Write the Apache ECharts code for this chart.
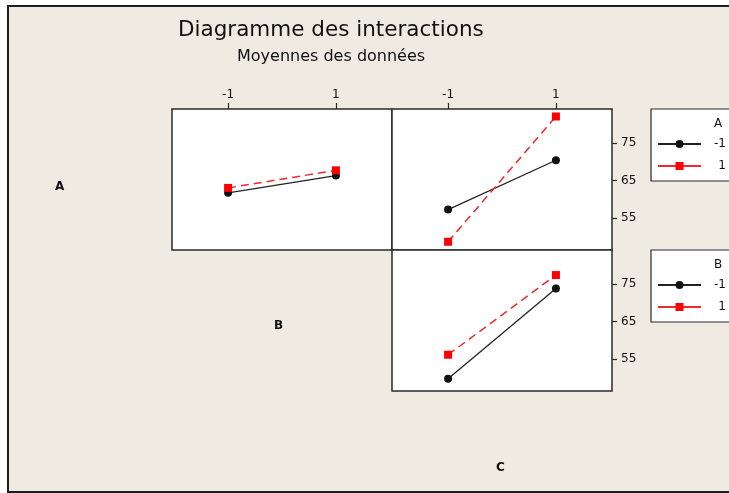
<!DOCTYPE html>
<html>
<head>
<meta charset="utf-8">
<script src="https://cdn.jsdelivr.net/npm/echarts@6/dist/echarts.min.js"></script>
<style>
html,body{margin:0;padding:0;background:#ffffff;overflow:hidden;}
#frame{position:absolute;left:7px;top:5px;width:740px;height:484px;background:#EFEBE2;border-left:2px solid #1e1e1e;border-top:2px solid #1e1e1e;border-bottom:2px solid #1e1e1e;}
#chart{position:absolute;left:0;top:0;width:729px;height:493px;}
</style>
</head>
<body>
<div id="frame"></div>
<div id="chart"></div>
<script>
// ---- data ----
const levels = [-1, 1];
const xTicks = [-1, 1];
const yTicks = [55, 65, 75];
// Row A, x = B : lines for A
const abANeg = [61.7, 66.3];
const abAPos = [63.0, 67.7];
// Row A, x = C : lines for A
const acANeg = [57.2, 70.4];
const acAPos = [48.6, 82.1];
// Row B, x = C : lines for B
const bcBNeg = [49.7, 73.8];
const bcBPos = [56.1, 77.4];
const legendNames = ['-1', '1'];

const pts = arr => levels.map((x, i) => [x, arr[i]]);

const FONT = 'DejaVu Sans';
const X_MIN = -2.04, X_MAX = 2.04, Y_MIN = 46.4, Y_MAX = 84.1;

function grid(left, top) {
  return {left: left, top: top, width: 220, height: 141, show: true,
    backgroundColor: '#ffffff', borderColor: '#2a2a2a', borderWidth: 1.5, containLabel: false};
}
function xAxis(idx, labels) {
  return {type: 'value', gridIndex: idx, min: X_MIN, max: X_MAX, position: 'top',
    splitLine: {show: false}, axisLine: {show: false, onZero: false},
    axisTick: {show: labels, inside: false, length: 6, customValues: xTicks, lineStyle: {color: '#2a2a2a', width: 1.2}},
    axisLabel: {show: labels, customValues: xTicks, margin: 8, color: '#111', fontFamily: FONT, fontSize: 12}};
}
function yAxis(idx, labels) {
  return {type: 'value', gridIndex: idx, min: Y_MIN, max: Y_MAX, position: 'right',
    splitLine: {show: false}, axisLine: {show: false, onZero: false},
    axisTick: {show: labels, inside: false, length: 5, customValues: yTicks, lineStyle: {color: '#2a2a2a', width: 1.2}},
    axisLabel: {show: labels, customValues: yTicks, margin: 9, color: '#111', fontFamily: FONT, fontSize: 12}};
}
function blackSeries(idx, arr) {
  return {type: 'line', name: '-1', xAxisIndex: idx, yAxisIndex: idx, data: pts(arr),
    symbol: 'circle', symbolSize: 8, itemStyle: {color: '#111111'},
    lineStyle: {color: '#222222', width: 1.3, type: 'solid'}, z: 3, animation: false};
}
function redSeries(idx, arr) {
  return {type: 'line', name: '1', xAxisIndex: idx, yAxisIndex: idx, data: pts(arr),
    symbol: 'rect', symbolSize: 8, itemStyle: {color: '#ff0000'},
    lineStyle: {color: '#ec2a30', width: 1.5, type: [8, 5]}, z: 4, animation: false};
}
function legend(top) {
  return {data: legendNames, orient: 'vertical', left: 651, top: top,
    padding: [29, 12, 9, 6], itemGap: 10, itemWidth: 43, itemHeight: 10,
    backgroundColor: '#ffffff', borderColor: '#2a2a2a', borderWidth: 1.2, borderRadius: 0,
    selectedMode: false, lineStyle: {type: 'solid'},
    formatter: '{r|{name}}',
    textStyle: {color: '#111', fontFamily: FONT, fontSize: 12,
      rich: {r: {width: 20, align: 'right', fontFamily: FONT, fontSize: 12, color: '#111'}}}};
}
function label(text, left, top, size, weight) {
  return {text: text, left: left, top: top, padding: 0,
    textStyle: {fontFamily: FONT, fontSize: size, fontWeight: weight, color: '#111'}};
}

const chart = echarts.init(document.getElementById('chart'), null, {renderer: 'canvas'});
chart.setOption({
  backgroundColor: 'transparent',
  animation: false,
  title: [
    label('Diagramme des interactions', 178, 19, 21.5, 'normal'),
    label('Moyennes des données', 237, 49, 16, 'normal'),
    label('A', 714, 118, 12, 'normal'),
    label('B', 714, 259, 12, 'normal'),
    label('A', 55, 181, 12, 'bold'),
    label('B', 274, 320, 12, 'bold'),
    label('C', 496, 462, 12, 'bold')
  ],
  legend: [legend(109), legend(250)],
  grid: [grid(172, 109), grid(392, 109), grid(392, 250)],
  xAxis: [xAxis(0, true), xAxis(1, true), xAxis(2, false)],
  yAxis: [yAxis(0, false), yAxis(1, true), yAxis(2, true)],
  series: [
    blackSeries(0, abANeg), redSeries(0, abAPos),
    blackSeries(1, acANeg), redSeries(1, acAPos),
    blackSeries(2, bcBNeg), redSeries(2, bcBPos)
  ]
});
</script>
</body>
</html>
